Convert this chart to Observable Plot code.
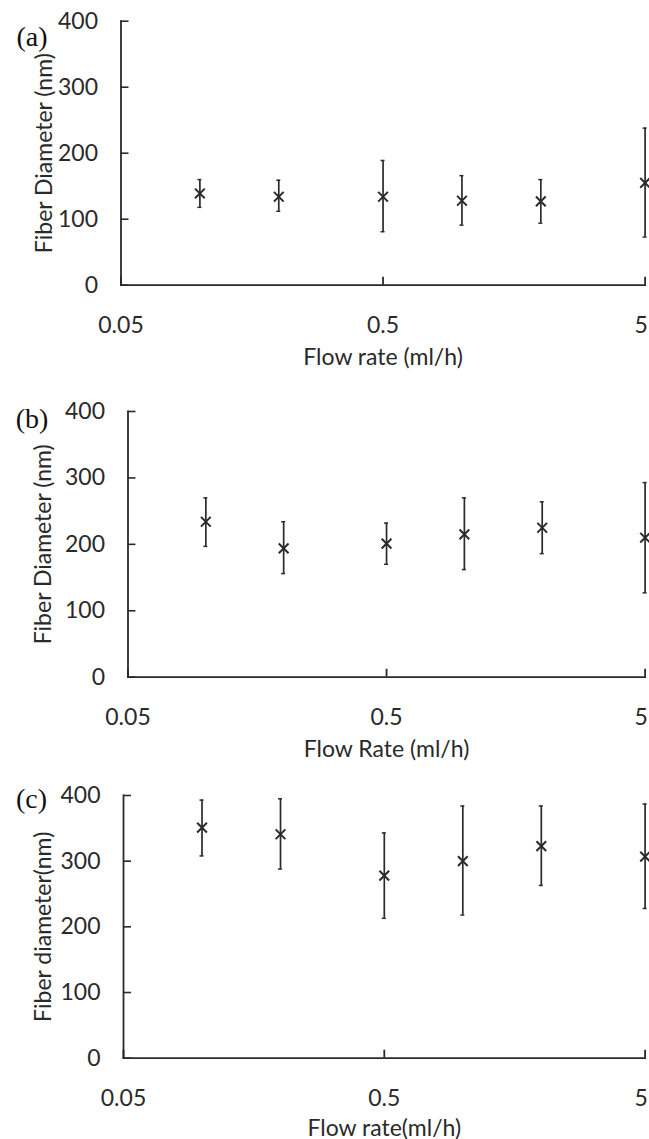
<!DOCTYPE html>
<html><head><meta charset="utf-8">
<script src="https://cdn.jsdelivr.net/npm/d3@7"></script>
<script src="https://cdn.jsdelivr.net/npm/@observablehq/plot@0.6"></script>
<style>
html,body{margin:0;padding:0;background:#fff;overflow:hidden;width:649px;height:1139px;}
#wrap{position:relative;width:649px;height:1139px;}
.panel{position:absolute;left:0;}
</style></head><body><div id="wrap"></div>
<script>
// Flow rates (ml/h)
const flowRates = [0.1, 0.2, 0.5, 1, 2, 5];
// Panel (a)
const meanA = [139, 134, 134, 128, 127, 155];
const lowA  = [118, 112, 81, 91, 94, 73];
const highA = [160, 159, 189, 166, 160, 238];
// Panel (b)
const meanB = [234, 194, 201, 215, 225, 210];
const lowB  = [197, 156, 170, 162, 186, 127];
const highB = [270, 234, 232, 270, 264, 293];
// Panel (c)
const meanC = [351, 341, 278, 300, 323, 307];
const lowC  = [308, 288, 213, 218, 263, 228];
const highC = [393, 395, 343, 384, 384, 387];

const xTicks = [0.05, 0.5, 5];
const yTicks = [0, 100, 200, 300, 400];
const panelLabels = ["(a)", "(b)", "(c)"];
const xLabels = ["Flow rate (ml/h)", "Flow Rate (ml/h)", "Flow rate(ml/h)"];
const yLabels = ["Fiber Diameter (nm)", "Fiber Diameter (nm)", "Fiber diameter(nm)"];

const series = [[meanA, lowA, highA], [meanB, lowB, highB], [meanC, lowC, highC]];

const layouts = [
  {top: 0,   height: 375, mt: 20.7, ml: 120.5, ylDx: -76,  plDx: -89, plDy: 16, xlDy: 72},
  {top: 375, height: 385, mt: 36,   ml: 127.5, ylDx: -84,  plDx: -96, plDy: 8,  xlDy: 72},
  {top: 760, height: 379, mt: 35,   ml: 123,   ylDx: -80,  plDx: -92, plDy: 4,  xlDy: 70}
];
const innerHeights = [264, 265.7, 262.7];

const ink = "#2a2a2a";
const fs = 23;
const wrap = document.getElementById("wrap");

layouts.forEach((L, k) => {
  const [m, lo, hi] = series[k];
  const data = flowRates.map((x, i) => ({x, mean: m[i], low: lo[i], high: hi[i]}));
  const mr = 4.4;
  const innerW = 649 - L.ml - mr;
  const innerH = innerHeights[k];
  const mb = L.height - L.mt - innerH;
  const plot = Plot.plot({
    width: 649,
    height: L.height,
    marginTop: L.mt,
    marginLeft: L.ml,
    marginRight: mr,
    marginBottom: mb,
    style: {fontFamily: "Lato", fontSize: fs + "px", color: ink, background: "transparent", overflow: "visible"},
    x: {type: "log", domain: [0.05, 5]},
    y: {domain: [0, 400]},
    marks: [
      Plot.frame({anchor: "left", stroke: ink, strokeWidth: 1.8}),
      Plot.frame({anchor: "bottom", stroke: ink, strokeWidth: 1.8}),
      Plot.tickY(yTicks, {y: d => d, stroke: ink, strokeWidth: 1.6, insetRight: innerW - 8}),
      Plot.tickX(xTicks, {x: d => d, stroke: ink, strokeWidth: 1.8, insetTop: innerH - 8}),
      Plot.axisY({ticks: yTicks, tickSize: 0, tickPadding: 23, label: null, tickFormat: d => String(d), fontSize: fs}),
      Plot.axisX({ticks: xTicks.slice(0, -1), tickSize: 0, tickPadding: 31, label: null, tickFormat: d => String(d), fontSize: fs}),
      Plot.axisX({ticks: xTicks.slice(-1), tickSize: 0, tickPadding: 31, label: null, tickFormat: d => String(d), fontSize: fs, dx: -4}),
      Plot.ruleX(data, {x: "x", y1: "low", y2: "high", stroke: ink, strokeWidth: 1.7}),
      Plot.ruleY(data, {x1: "x", x2: "x", y: "high", stroke: ink, strokeWidth: 1.5, insetLeft: -2, insetRight: -2}),
      Plot.ruleY(data, {x1: "x", x2: "x", y: "low", stroke: ink, strokeWidth: 1.5, insetLeft: -2, insetRight: -2}),
      Plot.dot(data, {x: "x", y: "mean", symbol: "times", r: 4.5, stroke: ink, strokeWidth: 2}),
      Plot.text([xLabels[k]], {text: d => d, frameAnchor: "bottom", textAnchor: "middle", lineAnchor: "middle", dy: L.xlDy, fontSize: fs, fill: ink}),
      Plot.text([yLabels[k]], {text: d => d, frameAnchor: "left", textAnchor: "middle", lineAnchor: "middle", dx: L.ylDx, rotate: -90, fontSize: fs, fill: ink}),
      Plot.text([panelLabels[k]], {text: d => d, frameAnchor: "top-left", textAnchor: "middle", lineAnchor: "middle", dx: L.plDx, dy: L.plDy, fontFamily: "Liberation Serif", fontSize: 28, fill: "#111"})
    ]
  });
  plot.classList.add("panel");
  plot.style.top = L.top + "px";
  wrap.appendChild(plot);
});
</script>
</body></html>
